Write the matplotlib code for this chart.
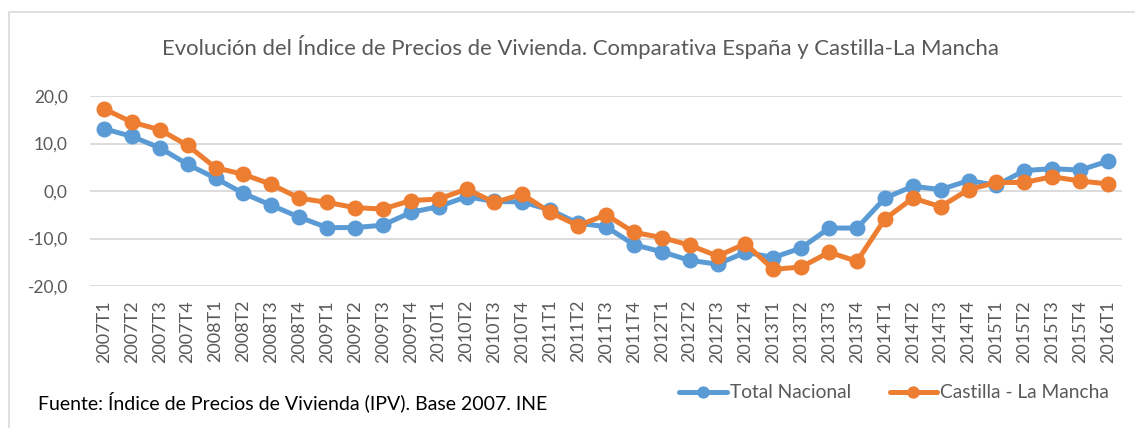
import matplotlib
matplotlib.use("Agg")
import matplotlib.pyplot as plt
from matplotlib.patches import Rectangle

# quarters 2007T1 .. 2016T1
periodos = [f"{a}T{q}" for a in range(2007, 2017) for q in range(1, 5)][:37]

total_nacional = [13.1, 11.5, 9.1, 5.6, 2.7, -0.5, -3.0, -5.5, -7.7, -7.7, -7.2, -4.5,
                  -3.3, -1.2, -2.2, -2.3, -4.0, -6.8, -7.5, -11.3, -12.8, -14.6, -15.4, -12.9,
                  -14.0, -12.0, -7.8, -7.8, -1.5, 1.0, 0.3, 2.2, 1.2, 4.3, 4.7, 4.4, 6.3]
castilla_lm = [17.3, 14.5, 12.9, 9.6, 4.9, 3.5, 1.4, -1.5, -2.4, -3.5, -3.8, -2.0,
               -1.7, 0.4, -2.4, -0.7, -4.5, -7.3, -5.0, -8.7, -9.8, -11.4, -13.7, -11.1,
               -16.5, -16.0, -12.9, -14.8, -5.9, -1.5, -3.3, 0.3, 1.8, 1.8, 3.0, 2.1, 1.5]

plt.rcParams['font.family'] = ['Lato', 'DejaVu Sans']
gris = "#595959"

W, H = 1135, 428
fig = plt.figure(figsize=(W / 100, H / 100), dpi=100)
ax = fig.add_axes([90 / W, 1 - 286 / H, 1032 / W, 190 / H])

x = range(len(periodos))
ax.plot(x, total_nacional, color="#5B9BD5", lw=3.6, marker="o", ms=10.5,
        label="Total Nacional", solid_capstyle="round")
ax.plot(x, castilla_lm, color="#ED7D31", lw=3.6, marker="o", ms=10.5,
        label="Castilla - La Mancha", solid_capstyle="round")

ax.set_xlim(-0.5, len(periodos) - 0.5)
ax.set_ylim(-20, 20)
ax.set_yticks([-20, -10, 0, 10, 20])
ax.set_yticklabels([f"{v:.1f}".replace(".", ",") for v in [-20, -10, 0, 10, 20]])
ax.set_xticks(list(x))
ax.set_xticklabels(periodos, rotation=90)
ax.tick_params(axis="both", length=0, colors=gris)
ax.tick_params(axis="y", pad=16, labelsize=12.5)
ax.tick_params(axis="x", pad=10, labelsize=13)
ax.grid(axis="y", color="#D9D9D9", lw=1.3)
ax.set_axisbelow(True)
for s in ax.spines.values():
    s.set_visible(False)

fig.text(580 / W, 1 - 47 / H, "Evolución del Índice de Precios de Vivienda. Comparativa España y Castilla-La Mancha",
         ha="center", va="center", fontsize=15.9, color=gris)

fig.legend(loc="center left", bbox_to_anchor=(662 / W, 1 - 393 / H), ncol=2, frameon=False,
           fontsize=13.8, labelcolor=gris, handlelength=2.5, handletextpad=0.15,
           columnspacing=2.0, markerscale=0.75)

fig.text(38 / W, 1 - 402 / H, "Fuente: Índice de Precios de Vivienda (IPV). Base 2007. INE",
         ha="left", va="center", fontsize=14, color="black")

fig.patches.append(Rectangle((9 / W, -0.2), 1.2, 1.2 - 12 / H, transform=fig.transFigure,
                             fill=False, edgecolor="#D9D9D9", lw=1.2))

fig.savefig("out.png", dpi=100)
